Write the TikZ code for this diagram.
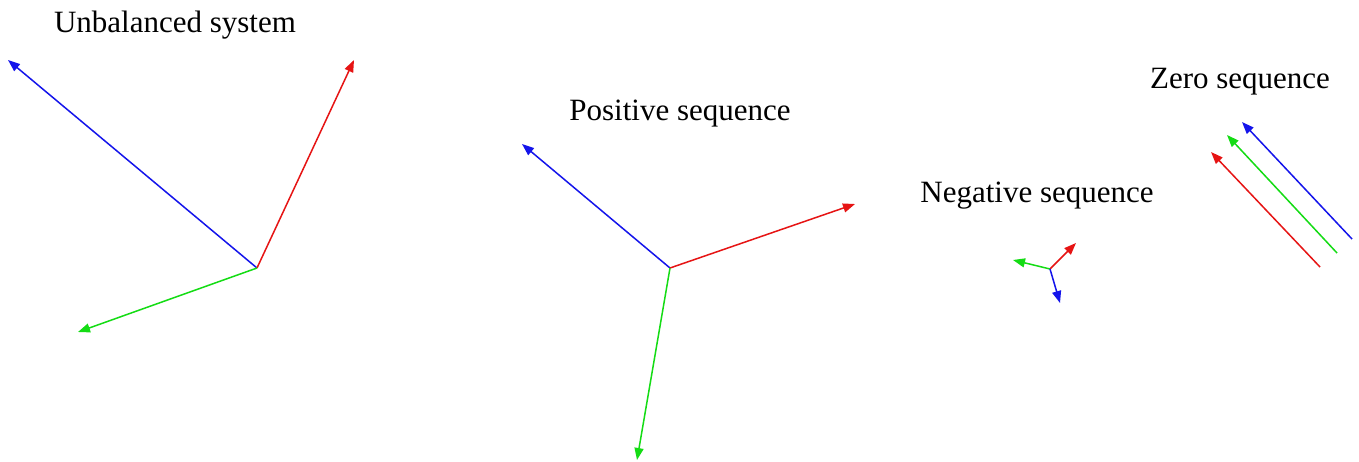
\documentclass[tikz,border=0pt]{standalone}
\usepackage{fontspec}
\setmainfont{Liberation Serif}
\usetikzlibrary{arrows.meta}
\definecolor{pblue}{RGB}{20,20,235}
\definecolor{pred}{RGB}{230,20,20}
\definecolor{pgreen}{RGB}{20,220,20}
\tikzset{
  vec/.style={line width=1.5pt,-{Triangle[length=12pt,width=9pt]}},
  lab/.style={font=\fontsize{31}{34}\selectfont, inner sep=0pt, anchor=base}
}
\begin{document}
\begin{tikzpicture}[x=1pt,y=-1pt]
\useasboundingbox[fill=white] (0,0) rectangle (1359,461);
% labels
\node[lab] (l1) at (175,32) {Unbalanced system};
\node[lab] (l2) at (680,120) {Positive sequence};
\node[lab] (l3) at (1037,202) {Negative sequence};
\node[lab] (l4) at (1240,88) {Zero sequence};
% unbalanced
\coordinate (u0) at (257,268);
\coordinate (ub) at (8,60);
\coordinate (ur) at (354,60);
\coordinate (ug) at (78,332);
\draw[vec,pblue] (u0) -- (ub);
\draw[vec,pred] (u0) -- (ur);
\draw[vec,pgreen] (u0) -- (ug);
% positive
\coordinate (p0) at (670,268);
\coordinate (pb) at (522,144);
\coordinate (pr) at (855,204);
\coordinate (pg) at (637,460);
\draw[vec,pblue] (p0) -- (pb);
\draw[vec,pred] (p0) -- (pr);
\draw[vec,pgreen] (p0) -- (pg);
% negative
\coordinate (n0) at (1050,269);
\coordinate (nr) at (1076,243);
\coordinate (ng) at (1013,260);
\coordinate (nb) at (1060,303);
\draw[vec,pred] (n0) -- (nr);
\draw[vec,pgreen] (n0) -- (ng);
\draw[vec,pblue] (n0) -- (nb);
% zero
\coordinate (zr0) at (1320,267);
\coordinate (zr) at (1211,152);
\coordinate (zg0) at (1337,253);
\coordinate (zg) at (1227,135);
\coordinate (zb0) at (1352,239);
\coordinate (zb) at (1242,122);
\draw[vec,pred] (zr0) -- (zr);
\draw[vec,pgreen] (zg0) -- (zg);
\draw[vec,pblue] (zb0) -- (zb);
\end{tikzpicture}
\end{document}
